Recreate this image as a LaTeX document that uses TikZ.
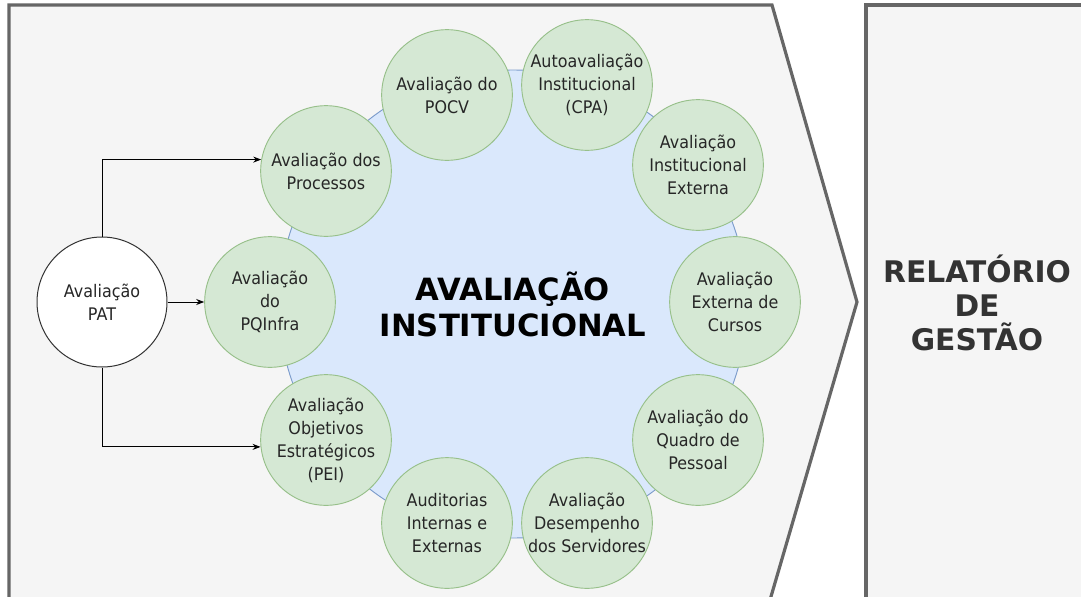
\documentclass[tikz,border=0pt]{standalone}
\usepackage{fontspec}
\usetikzlibrary{arrows.meta}
\newfontfamily\lblfont[FakeStretch=0.92]{DejaVu Sans}
\newfontfamily\headfont{DejaVu Sans}
\definecolor{panelgray}{HTML}{F5F5F5}
\definecolor{panelline}{HTML}{666666}
\definecolor{coreblue}{HTML}{DAE8FC}
\definecolor{coreline}{HTML}{7C9CCB}
\definecolor{itemgreen}{HTML}{D5E8D4}
\definecolor{itemline}{HTML}{97C08A}
\definecolor{headgray}{HTML}{333333}

\begin{document}
\begin{tikzpicture}[x=0.75pt, y=-0.75pt,
    >={Stealth[length=6pt, width=4.5pt]},
    panel/.style={fill=panelgray, draw=panelline, line width=2.4pt},
    core/.style={circle, fill=coreblue, draw=coreline, line width=0.7pt,
      minimum size=351pt, inner sep=0pt, align=center,
      font=\headfont\bfseries\fontsize{23}{27}\selectfont},
    item/.style={circle, fill=itemgreen, draw=itemline, line width=0.7pt,
      minimum size=98pt, inner sep=0pt},
    lbl/.style={font=\lblfont\fontsize{13}{17.25}\selectfont, align=center,
      text=black!85, inner sep=0pt},
    flow/.style={->, line width=0.75pt}]
  \useasboundingbox (0, 0) rectangle (1081, 596);
  \clip (0, 0) rectangle (1081, 596);
  \draw[panel] (9, 5) -- (772, 5) -- (857, 302) -- (770, 600) -- (9, 600) -- cycle;
  \draw[panel] (866, 5) rectangle (1110, 620);
  \node[align=center, text=headgray,
        font=\headfont\bfseries\fontsize{22.3}{25.5}\selectfont]
    (relat) at (977, 303) {RELATÓRIO\\DE\\GESTÃO};
  \node[core] (aval) at (513, 304) {AVALIAÇÃO\\INSTITUCIONAL};
  \foreach \x/\y/\name/\txt in {
      447/95/pocv/{Avaliação do\\POCV},
      587/85/cpa/{Autoavaliação\\Institucional\\(CPA)},
      698/165/ext/{Avaliação\\Institucional\\Externa},
      735/302/curs/{Avaliação\\Externa de\\Cursos},
      698/440/quad/{Avaliação do\\Quadro de\\Pessoal},
      587/523/serv/{Avaliação\\Desempenho\\dos Servidores},
      447/523/audit/{Auditorias\\Internas e\\Externas},
      326/440/pei/{Avaliação\\Objetivos\\Estratégicos\\(PEI)},
      270/302/pqi/{Avaliação\\do\\PQInfra},
      326/171/proc/{Avaliação dos\\Processos}}{
    \node[item, label={[lbl]center:{\txt}}] (\name) at (\x, \y) {};
  }
  \node[circle, fill=white, draw=black!80, line width=0.75pt, minimum size=97.5pt,
        inner sep=0pt, label={[lbl]center:{Avaliação\\PAT}}] (pat) at (102, 302) {};
  \draw[flow] (pat.north) |- (proc.170);
  \draw[flow] (pat.east) -- (pqi.west);
  \draw[flow] (pat.south) |- (pei.186);
\end{tikzpicture}
\end{document}
